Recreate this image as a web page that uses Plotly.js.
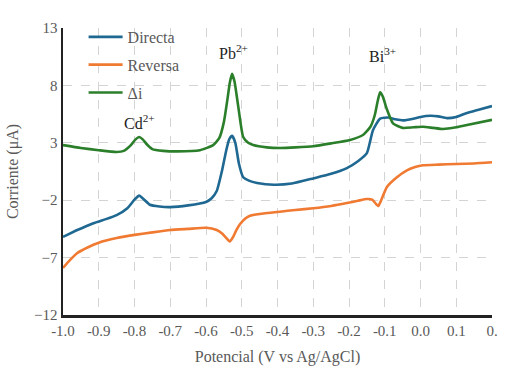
<!DOCTYPE html>
<html><head><meta charset="utf-8">
<script src="https://cdn.plot.ly/plotly-3.0.1.min.js"></script>
<style>html,body{margin:0;padding:0;background:#fff}</style>
</head><body><div id="chart" style="width:506px;height:377px"></div>
<script>
const V_dir = [-1.0,-0.96,-0.915,-0.88,-0.85,-0.82,-0.8,-0.787,-0.775,-0.757,-0.73,-0.7,-0.65,-0.6,-0.585,-0.57,-0.555,-0.543,-0.535,-0.527,-0.518,-0.508,-0.496,-0.48,-0.457,-0.41,-0.36,-0.3,-0.25,-0.206,-0.175,-0.15,-0.133,-0.113,-0.09,-0.07,-0.049,-0.02,0.0,0.027,0.05,0.074,0.1,0.13,0.16,0.2];
const I_dir = [-5.2,-4.6,-4.0,-3.65,-3.3,-2.7,-1.95,-1.6,-1.9,-2.4,-2.55,-2.6,-2.45,-2.15,-1.85,-1.2,0.6,2.4,3.3,3.6,3.0,1.2,0.0,-0.3,-0.5,-0.65,-0.55,-0.1,0.3,0.8,1.4,2.1,4.1,5.1,5.2,5.05,4.95,5.1,5.25,5.35,5.3,5.15,5.25,5.6,5.85,6.2];
const V_rev = [-1.0,-0.98,-0.96,-0.93,-0.9,-0.85,-0.795,-0.75,-0.7,-0.65,-0.6,-0.57,-0.555,-0.543,-0.533,-0.524,-0.515,-0.505,-0.49,-0.477,-0.45,-0.393,-0.35,-0.3,-0.25,-0.206,-0.175,-0.15,-0.135,-0.125,-0.118,-0.11,-0.094,-0.066,-0.038,-0.015,0.007,0.05,0.1,0.15,0.2];
const I_rev = [-7.9,-7.2,-6.6,-6.1,-5.7,-5.3,-5.0,-4.8,-4.6,-4.5,-4.4,-4.6,-4.9,-5.3,-5.6,-5.2,-4.6,-4.1,-3.6,-3.35,-3.2,-3.0,-2.85,-2.7,-2.5,-2.25,-2.05,-1.9,-1.95,-2.3,-2.5,-2.0,-0.85,0.0,0.6,0.9,1.05,1.1,1.15,1.2,1.3];
const V_dif = [-1.0,-0.95,-0.9,-0.85,-0.83,-0.81,-0.797,-0.787,-0.777,-0.765,-0.75,-0.72,-0.68,-0.617,-0.58,-0.563,-0.55,-0.54,-0.533,-0.527,-0.52,-0.51,-0.496,-0.482,-0.468,-0.43,-0.393,-0.35,-0.3,-0.25,-0.197,-0.16,-0.14,-0.128,-0.12,-0.113,-0.105,-0.095,-0.077,-0.05,-0.02,0.007,0.035,0.063,0.1,0.13,0.2];
const I_dif = [2.8,2.55,2.35,2.2,2.3,2.8,3.3,3.5,3.3,2.85,2.45,2.3,2.25,2.35,2.8,3.4,4.8,6.8,8.3,9.0,8.3,6.2,3.5,3.0,2.8,2.6,2.55,2.6,2.7,2.95,3.25,3.7,4.4,5.4,6.6,7.4,7.0,6.0,4.7,4.3,4.35,4.4,4.3,4.2,4.35,4.55,5.0];
const xTicks = [-1.0,-0.9,-0.8,-0.7,-0.6,-0.5,-0.4,-0.3,-0.2,-0.1,0.0,0.1,0.2];
const xTickText = ["-1.0","-0.9","-0.8","-0.7","-0.6","-0.5","-0.4","-0.3","-0.2","-0.1","0.0","0.1","0."];
const yTicks = [-12,-7,-2,3,8,13];
const seriesNames = ["Directa","Reversa","Δi"];
const peakLabels = [
  {x:-0.785, y:4.8, text:"Cd<sup>2+</sup>"},
  {x:-0.524, y:10.9, text:"Pb<sup>2+</sup>"},
  {x:-0.105, y:10.65, text:"Bi<sup>3+</sup>"}
];
const colors = ["#1f6891","#f07a32","#2b7f2b"];
const mk = (x,y,name,c)=>({x:x,y:y,name:name,legendgroup:name,type:"scatter",mode:"lines",line:{color:c,width:2.6,shape:"spline",smoothing:0.5}});
const data = [
  mk(V_dir,I_dir,seriesNames[0],colors[0]),
  mk(V_rev,I_rev,seriesNames[1],colors[1]),
  mk(V_dif,I_dif,seriesNames[2],colors[2])
];
const gridStyle = {showgrid:true,gridcolor:"#d4d4d4",griddash:"dash",gridwidth:1};
const layout = {
  width:506,height:377,
  margin:{l:63,r:14,t:28,b:62},
  paper_bgcolor:"#fff",plot_bgcolor:"#fff",
  font:{family:"Liberation Serif, Times New Roman, serif",color:"#595959",size:15},
  showlegend:true,
  legend:{x:0.048,y:1.028,xanchor:"left",yanchor:"top",bgcolor:"rgba(0,0,0,0)",font:{size:16,color:"#595959"},itemwidth:34,traceorder:"grouped",tracegroupgap:4},
  xaxis:Object.assign({range:[-1.0,0.2],tickmode:"array",tickvals:xTicks,ticktext:xTickText,
    showline:true,linecolor:"#222",linewidth:2.5,zeroline:false,ticks:"",
    tickfont:{size:15,color:"#595959"},
    title:{text:"Potencial (V vs Ag/AgCl)",font:{size:16,color:"#595959"},standoff:14}},gridStyle),
  yaxis:Object.assign({range:[-12,13],tickmode:"array",tickvals:yTicks,
    showline:true,linecolor:"#222",linewidth:2.5,zeroline:false,ticks:"",
    tickfont:{size:15,color:"#595959"},
    title:{text:"Corriente (μA)",font:{size:16,color:"#595959"},standoff:12}},gridStyle),
  annotations:peakLabels.map(p=>({x:p.x,y:p.y,xref:"x",yref:"y",text:p.text,showarrow:false,font:{size:16,color:"#222"}}))
};
Plotly.newPlot("chart",data,layout,{displayModeBar:false,staticPlot:true});
</script></body></html>
